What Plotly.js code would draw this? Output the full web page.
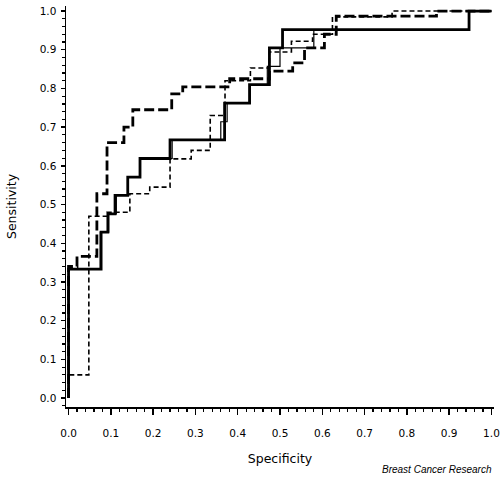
<!DOCTYPE html>
<html>
<head>
<meta charset="utf-8">
<script src="https://cdn.plot.ly/plotly-3.0.1.min.js"></script>
<style>
html,body{margin:0;padding:0;background:#fff;}
#chart{width:500px;height:481px;}
</style>
</head>
<body>
<div id="chart"></div>
<script>
// ROC curves: x = specificity axis value (as drawn), y = sensitivity
var curveA_x = [0, 0, 0.077, 0.093, 0.11, 0.14, 0.169, 0.24, 0.369, 0.428, 0.475, 0.506, 0.947, 1.0];
var curveA_y = [0, 0.333, 0.429, 0.476, 0.524, 0.571, 0.619, 0.667, 0.762, 0.810, 0.905, 0.952, 1.0, 1.0];

var curveB_x = [0, 0, 0.075, 0.095, 0.113, 0.14, 0.17, 0.245, 0.36, 0.375, 0.43, 0.47, 0.50, 0.58, 0.947, 1.0];
var curveB_y = [0, 0.333, 0.429, 0.476, 0.524, 0.571, 0.619, 0.667, 0.714, 0.762, 0.810, 0.857, 0.905, 0.952, 1.0, 1.0];

var curveC_x = [0, 0, 0.02, 0.067, 0.091, 0.131, 0.152, 0.244, 0.27, 0.381, 0.475, 0.53, 0.558, 0.605, 0.633, 0.87, 1.0];
var curveC_y = [0, 0.34, 0.366, 0.528, 0.66, 0.70, 0.745, 0.786, 0.804, 0.825, 0.845, 0.866, 0.905, 0.94, 0.987, 1.0, 1.0];

var curveD_x = [0, 0, 0.048, 0.091, 0.145, 0.192, 0.24, 0.29, 0.335, 0.37, 0.43, 0.475, 0.527, 0.577, 0.624, 0.765, 1.0];
var curveD_y = [0, 0.06, 0.47, 0.48, 0.528, 0.545, 0.618, 0.64, 0.73, 0.82, 0.853, 0.894, 0.922, 0.94, 0.985, 1.0, 1.0];

var xTitle = "Specificity";
var yTitle = "Sensitivity";
var sourceNote = "Breast Cancer Research";

var traces = [
  {x: curveB_x, y: curveB_y, mode: 'lines', line: {shape: 'hv', color: '#000', width: 1.2}},
  {x: curveD_x, y: curveD_y, mode: 'lines', line: {shape: 'hv', color: '#000', width: 1.6, dash: '5px,3px'}},
  {x: curveC_x, y: curveC_y, mode: 'lines', line: {shape: 'hv', color: '#000', width: 2.8, dash: '10px,4px'}},
  {x: curveA_x, y: curveA_y, mode: 'lines', line: {shape: 'hv', color: '#000', width: 2.8}}
];

var tickFont = {family: 'DejaVu Sans, Arial, sans-serif', size: 10.5, color: '#000'};
var titleFont = {family: 'DejaVu Sans, Arial, sans-serif', size: 12.5, color: '#000'};

var layout = {
  width: 500, height: 481,
  margin: {l: 66, r: 6, t: 6, b: 74},
  paper_bgcolor: '#fff', plot_bgcolor: '#fff',
  showlegend: false,
  xaxis: {
    range: [-0.006, 1.006], tickmode: 'linear', tick0: 0, dtick: 0.1, tickformat: '.1f',
    showline: true, linecolor: '#000', linewidth: 1.5, mirror: false,
    ticks: 'outside', ticklen: 6, tickwidth: 1.5, tickcolor: '#000',
    ticklabelstandoff: 10,
    minor: {dtick: 0.02, ticks: 'outside', ticklen: 3, tickwidth: 1.2, tickcolor: '#000'},
    showgrid: false, zeroline: false, tickfont: tickFont,
    title: {text: xTitle, font: titleFont, standoff: 16}
  },
  yaxis: {
    range: [-0.023, 1.013], tickmode: 'linear', tick0: 0, dtick: 0.1, tickformat: '.1f',
    showline: true, linecolor: '#000', linewidth: 1.5,
    ticks: 'outside', ticklen: 4, tickwidth: 1.5, tickcolor: '#000',
    ticklabelstandoff: 2,
    minor: {dtick: 0.02, ticks: 'outside', ticklen: 2.5, tickwidth: 1.2, tickcolor: '#000'},
    showgrid: false, zeroline: false, tickfont: tickFont,
    title: {text: yTitle, font: titleFont, standoff: 20}
  },
  annotations: [{
    text: '<i>' + sourceNote + '</i>', xref: 'paper', yref: 'paper', x: 1.0, y: -0.157,
    xanchor: 'right', yanchor: 'middle', showarrow: false,
    font: {family: 'Liberation Sans, Arial, sans-serif', size: 10, color: '#000'}
  }]
};

Plotly.newPlot('chart', traces, layout, {displayModeBar: false, staticPlot: true});
</script>
</body>
</html>
